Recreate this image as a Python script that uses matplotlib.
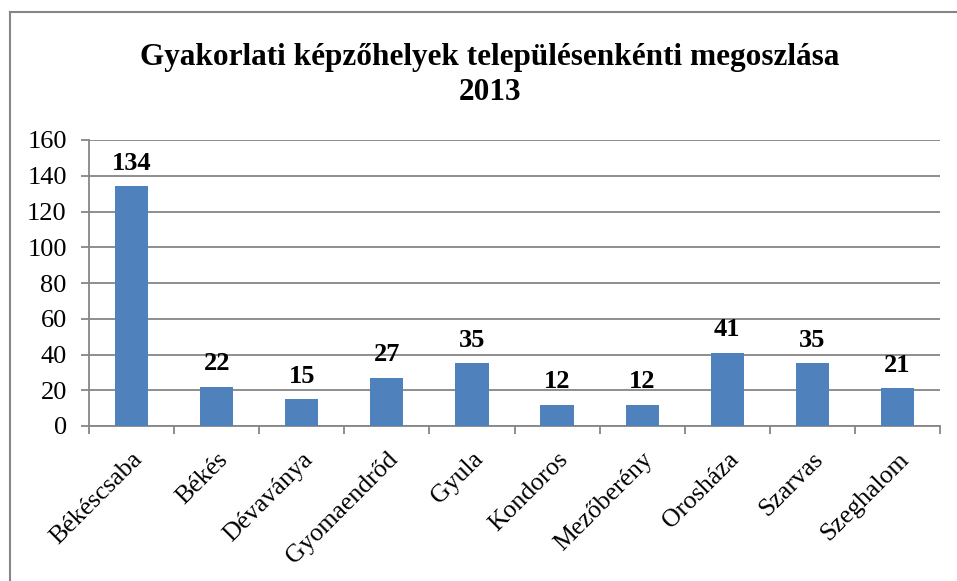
import matplotlib
matplotlib.use("Agg")
import matplotlib.pyplot as plt
from matplotlib.lines import Line2D
import numpy as np

categories = ["Békéscsaba", "Békés", "Dévaványa", "Gyomaendrőd", "Gyula",
              "Kondoros", "Mezőberény", "Orosháza", "Szarvas", "Szeghalom"]
values = [134, 22, 15, 27, 35, 12, 12, 41, 35, 21]
yticks = [0, 20, 40, 60, 80, 100, 120, 140, 160]

plt.rcParams['font.family'] = ['Liberation Serif', 'DejaVu Serif']

W, H = 957, 581
fig = plt.figure(figsize=(W / 100, H / 100), dpi=100)
ax = fig.add_axes([89 / W, 1 - 426 / H, (940 - 89) / W, (426 - 140) / H])

grid_c = '#868686'
x = np.arange(len(categories))
ax.bar(x, values, width=0.39, color='#4F81BD', zorder=3)
for xi, v in zip(x, values):
    ax.annotate(str(v), (xi, v), xytext=(0, 12), textcoords='offset points',
                ha='center', va='baseline', fontsize=19, fontweight='bold', zorder=4)

ax.set_xlim(-0.5, len(categories) - 0.5)
ax.set_ylim(0, 160)
ax.set_yticks(yticks)
ax.set_yticklabels([str(t) for t in yticks], fontsize=19)
ax.yaxis.grid(True, color=grid_c, linewidth=1.3, zorder=0)
ax.set_axisbelow(True)

ax.set_xticks(x)
ax.set_xticklabels(categories, rotation=45, ha='right', rotation_mode='anchor', fontsize=18.5)
ax.tick_params(axis='x', which='major', length=0, pad=16)
ax.set_xticks(np.arange(-0.5, len(categories), 1), minor=True)
ax.tick_params(axis='x', which='minor', length=6, color=grid_c, width=1.3)
ax.tick_params(axis='y', length=6, color=grid_c, width=1.3, pad=10)

for s in ['top', 'right']:
    ax.spines[s].set_visible(False)
for s in ['left', 'bottom']:
    ax.spines[s].set_color(grid_c)
    ax.spines[s].set_linewidth(1.3)

fig.text(490 / W, 1 - 58 / H, "Gyakorlati képzőhelyek településenkénti megoszlása",
         ha='center', va='center', fontsize=22.5, fontweight='bold')
fig.text(490 / W, 1 - 93 / H, "2013", ha='center', va='center', fontsize=22.5,
         fontweight='bold')

# outer frame (left and top edges)
fig.add_artist(Line2D([9.5 / W, 9.5 / W], [0, 1 - 11.5 / H], transform=fig.transFigure,
                      color=grid_c, linewidth=1.5))
fig.add_artist(Line2D([9.5 / W, 1], [1 - 11.5 / H, 1 - 11.5 / H], transform=fig.transFigure,
                      color=grid_c, linewidth=1.5))

fig.savefig("out.png", dpi=100)
